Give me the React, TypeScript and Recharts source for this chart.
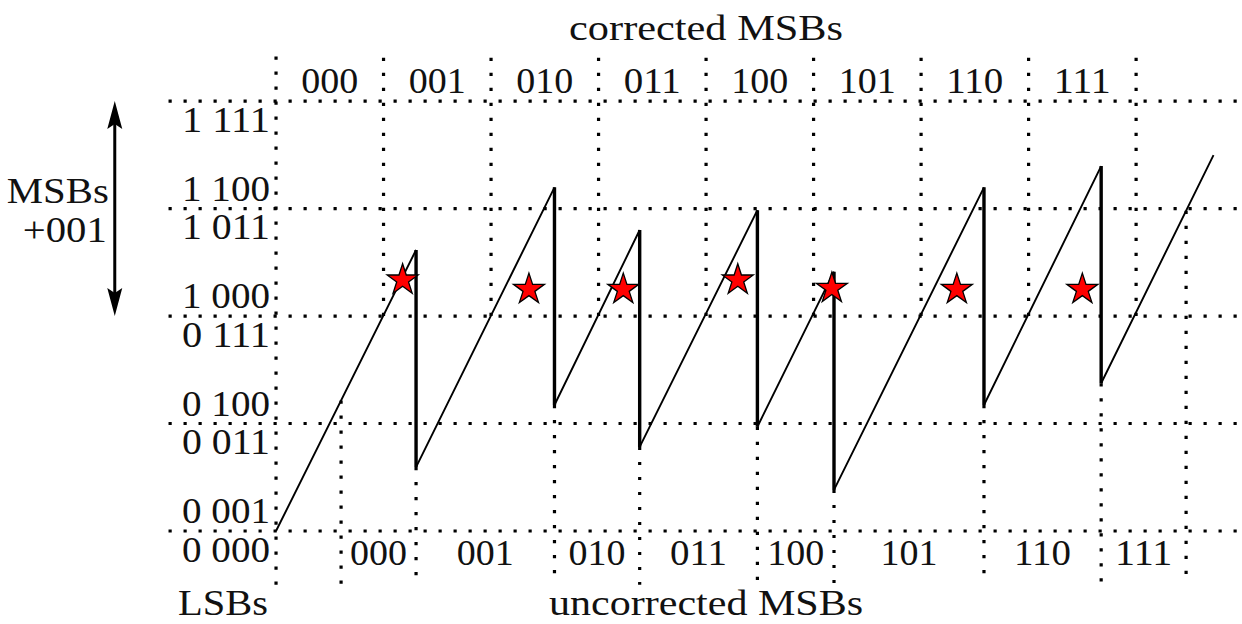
import React from "react";
import { ComposedChart, XAxis, YAxis, Line, Scatter, ReferenceLine } from "recharts";

// all values are in LSB steps (one grid cell = 4 LSBs)
const lsbGrid = [0, 4, 8, 12, 16];
const lsbTickText = ["0 000", "0 001", "0 011", "0 100", "0 111", "1 000", "1 011", "1 100", "1 111"];
const lsbTickAt = [0, 0, 4, 4, 8, 8, 12, 12, 16];
const lsbTickBelow = [true, false, true, false, true, false, true, false, true];

const correctedMsbs = ["000", "001", "010", "011", "100", "101", "110", "111"];
const uncorrectedMsbs = ["000", "001", "010", "011", "100", "101", "110", "111"];
// bin edges of the uncorrected MSBs along the input axis
const uncorrectedEdges = [2.42, 5.21, 10.36, 13.53, 17.91, 20.76, 26.34, 30.7, 33.86];

// sawtooth values just before / just after each drop (edges 1..7)
const dropTop = [10.46, 12.79, 11.2, 11.94, 9.65, 12.79, 13.58];
const dropBottom = [2.38, 4.69, 3.13, 3.88, 1.53, 4.69, 5.5];
const rampStart = { x: 0, y: 0 };
const rampEnd = { x: 34.88, y: 13.99 };

// red stars
const starX = [4.71, 9.41, 12.92, 17.18, 20.68, 25.33, 30.0];
const starY = [9.34, 8.99, 8.99, 9.34, 9.03, 8.99, 8.99];

// "MSBs +001" arrow spans one MSB step
const msbShift = [8, 16];

const W = 1242;
const H = 624;
const X_DOMAIN: [number, number] = [-10.27, 35.94];
const Y_DOMAIN: [number, number] = [-3.46, 19.76];
const FONT = "'Liberation Serif', 'Times New Roman', serif";
const FS = 36;
const DOTS = { stroke: "#000", strokeWidth: 3.2, strokeDasharray: "3.2 11.8" };

type Pt = { x: number; y: number | null };

const rampLine: Pt[] = [rampStart];
dropTop.forEach((top, i) => {
  const e = uncorrectedEdges[i + 1];
  rampLine.push({ x: e, y: top }, { x: e, y: null }, { x: e, y: dropBottom[i] });
});
rampLine.push(rampEnd);

const dropLine: Pt[] = dropTop.flatMap((top, i) => {
  const e = uncorrectedEdges[i + 1];
  return [
    { x: e, y: top },
    { x: e, y: dropBottom[i] },
    { x: e, y: null },
  ];
});

// value of the sawtooth at x (segment starting at x wins)
function rampAt(x: number) {
  for (let i = 0; i < rampLine.length - 1; i++) {
    const a = rampLine[i];
    const b = rampLine[i + 1];
    if (a.y == null || b.y == null || b.x <= a.x) continue;
    if (x >= a.x && x < b.x) return a.y + ((b.y - a.y) * (x - a.x)) / (b.x - a.x);
  }
  return 0;
}

const stars = starX.map((x, i) => ({ x, y: starY[i] }));
const tickLabels = lsbTickText.map((label, i) => ({ x: 0, y: lsbTickAt[i], label, below: lsbTickBelow[i] }));
const topLabels = correctedMsbs.map((label, i) => ({ x: i * 4 + 2, y: 16, label }));
const bottomLabels = uncorrectedMsbs.map((label, i) => ({
  x: (uncorrectedEdges[i] + uncorrectedEdges[i + 1]) / 2,
  y: 0,
  label,
}));

function textShape(anchor: "start" | "middle" | "end", dx: number, dy: number, len: number) {
  return (p: any) => (
    <text
      x={p.cx + dx}
      y={p.cy + (p.payload.below === undefined ? dy : p.payload.below ? 30.5 : -8)}
      textAnchor={anchor}
      fontFamily={FONT}
      fontSize={FS}
      fill="#111"
      textLength={len}
      lengthAdjust="spacingAndGlyphs"
    >
      {p.payload.label}
    </text>
  );
}

const starShape = (p: any) => {
  const R = 16.3;
  const r = R * 0.382;
  const pts = Array.from({ length: 10 }, (_, k) => {
    const a = -Math.PI / 2 + (k * Math.PI) / 5;
    const rr = k % 2 ? r : R;
    return `${p.cx + rr * Math.cos(a)},${p.cy + rr * Math.sin(a)}`;
  }).join(" ");
  return <polygon points={pts} fill="#ff0000" stroke="#000" strokeWidth={1.3} />;
};

const arrowHead = (p: any) => {
  const d = p.payload.dir;
  const back = p.cy - d * 28;
  return (
    <polygon
      points={`${p.cx},${p.cy} ${p.cx - 7.5},${back} ${p.cx},${p.cy - d * 23} ${p.cx + 7.5},${back}`}
      fill="#000"
    />
  );
};

export default function App() {
  return (
    <div style={{ position: "absolute", left: 0, top: 0, width: W, height: H, background: "#fff" }}>
      <ComposedChart width={W} height={H} margin={{ top: 0, right: 0, bottom: 0, left: 0 }}>
        <XAxis type="number" dataKey="x" domain={X_DOMAIN} allowDataOverflow hide />
        <YAxis type="number" dataKey="y" domain={Y_DOMAIN} allowDataOverflow hide />

        {/* LSB grid */}
        {lsbGrid.map((v) => (
          <ReferenceLine key={`h${v}`} segment={[{ x: -4, y: v }, { x: X_DOMAIN[1], y: v }]} {...DOTS} />
        ))}
        <ReferenceLine segment={[{ x: 0, y: -2 }, { x: 0, y: 18 }]} {...DOTS} />
        {/* corrected MSB edges: where the ramp crosses 1 000 */}
        {correctedMsbs.map((_, i) => (
          <ReferenceLine key={`c${i}`} segment={[{ x: (i + 1) * 4, y: 8 }, { x: (i + 1) * 4, y: 18 }]} {...DOTS} />
        ))}
        {/* uncorrected MSB edges */}
        {uncorrectedEdges.map((e) => (
          <ReferenceLine key={`u${e}`} segment={[{ x: e, y: rampAt(e) }, { x: e, y: -2 }]} {...DOTS} />
        ))}

        <Line data={rampLine} dataKey="y" stroke="#000" strokeWidth={1.9} dot={false} activeDot={false} isAnimationActive={false} />
        <Line data={dropLine} dataKey="y" stroke="#000" strokeWidth={3.4} dot={false} activeDot={false} isAnimationActive={false} />

        {/* MSB shift arrow */}
        <Line
          data={[{ x: -6, y: msbShift[0] + 0.5 }, { x: -6, y: msbShift[1] - 0.5 }]}
          dataKey="y"
          stroke="#000"
          strokeWidth={3}
          dot={false}
          activeDot={false}
          isAnimationActive={false}
        />
        <Scatter
          data={[
            { x: -6, y: msbShift[1], dir: -1 },
            { x: -6, y: msbShift[0], dir: 1 },
          ]}
          shape={arrowHead}
          isAnimationActive={false}
        />

        <Scatter data={stars} shape={starShape} isAnimationActive={false} />

        <Scatter data={tickLabels} shape={textShape("end", -6, 0, 88)} isAnimationActive={false} />
        <Scatter data={topLabels} shape={textShape("middle", 0, -8, 57)} isAnimationActive={false} />
        <Scatter data={bottomLabels} shape={textShape("middle", 0, 34, 57)} isAnimationActive={false} />
        <Scatter data={[{ x: 16, y: 18, label: "corrected MSBs" }]} shape={textShape("middle", 0, -7, 274)} isAnimationActive={false} />
        <Scatter data={[{ x: 16, y: -2, label: "uncorrected MSBs" }]} shape={textShape("middle", 0, 30.5, 314)} isAnimationActive={false} />
        <Scatter data={[{ x: 0, y: -2, label: "LSBs" }]} shape={textShape("end", -8, 30.5, 90)} isAnimationActive={false} />
        <Scatter data={[{ x: -6, y: 12, label: "MSBs" }]} shape={textShape("end", -6, -5.5, 102)} isAnimationActive={false} />
        <Scatter data={[{ x: -6, y: 12, label: "+001" }]} shape={textShape("end", -8, 33.5, 84)} isAnimationActive={false} />
      </ComposedChart>
    </div>
  );
}
